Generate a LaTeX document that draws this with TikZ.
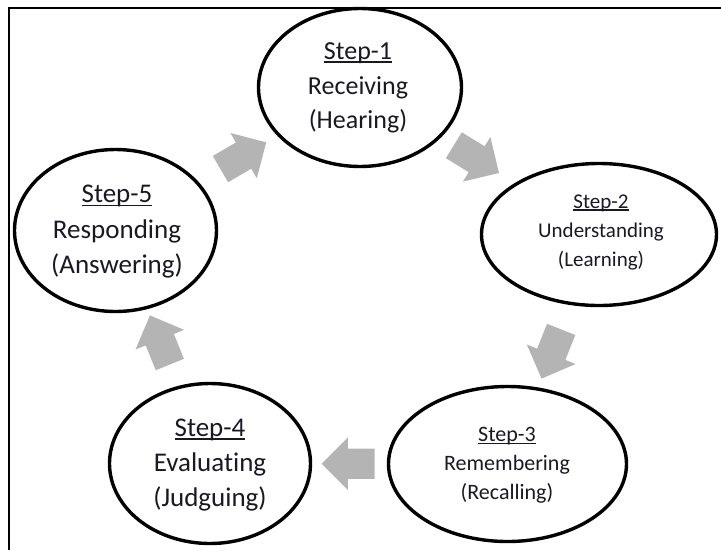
\documentclass[tikz,border=0pt]{standalone}
\usepackage{fontspec}
\setmainfont[Ligatures=NoCommon]{Carlito}
\usetikzlibrary{shapes.geometric,shapes.arrows}
\definecolor{ink}{RGB}{25,25,35}
\definecolor{flow}{RGB}{180,180,180}
% underline that sits just below the baseline and crosses descenders
\newsavebox\ulbox
\newcommand\stepname[1]{\sbox\ulbox{#1}\makebox[0pt][l]{\rule[-0.12em]{\wd\ulbox}{0.06em}}\usebox\ulbox}
\begin{document}
\begin{tikzpicture}[x=1pt,y=-1pt,
  stage/.style={ellipse, draw=black, line width=3.4pt, inner sep=0pt},
  stagetext/.style={align=center, text=ink, inner sep=0pt},
  flowarrow/.style={single arrow, fill=flow, draw=none, minimum height=53pt,
    minimum width=52pt, single arrow head extend=11pt, single arrow head indent=0pt,
    inner xsep=0pt, inner ysep=15pt, sloped, allow upside down},
]
\useasboundingbox (0,0) rectangle (721,550);
% page frame (top and left rules)
\draw[line width=2.6pt] (9,550) -- (9,8) -- (721,8);

% the five stages
\node[stage, minimum width=203pt, minimum height=158pt] (s1) at (360,87.5) {};
\node[stage, minimum width=235pt, minimum height=142pt] (s2) at (599,234.5) {};
\node[stage, minimum width=238pt, minimum height=155pt] (s3) at (507.5,464) {};
\node[stage, minimum width=201pt, minimum height=160pt] (s4) at (210,463.5) {};
\node[stage, minimum width=202pt, minimum height=162pt] (s5) at (115.5,230.5) {};

% stage labels
\node[stagetext, font=\fontsize{26}{34.5}\selectfont] (t1) at (358,88)
  {\stepname{Step-1}\\Receiving\\(Hearing)};
\node[stagetext, font=\fontsize{21}{29}\selectfont] (t2) at (601,232)
  {\stepname{Step-2}\\Understanding\\(Learning)};
\node[stagetext, font=\fontsize{22}{29}\selectfont] (t3) at (507,465)
  {\stepname{Step-3}\\Remembering\\(Recalling)};
\node[stagetext, font=\fontsize{27}{35}\selectfont] (t4) at (210,465)
  {\stepname{Step-4}\\Evaluating\\(Judguing)};
\node[stagetext, font=\fontsize{27}{35.5}\selectfont] (t5) at (117,232)
  {\stepname{Step-5}\\Responding\\(Answering)};

% block arrows between consecutive stages
\path (s1.center) -- node[flowarrow, pos=0.46] (a12) {} (s2.center);
\path (s2.center) -- node[flowarrow, pos=0.49] (a23) {} (s3.center);
\path (s3.center) -- node[flowarrow, pos=0.51] (a34) {} (s4.center);
\path (s4.center) -- node[flowarrow, pos=0.5] (a45) {} (s5.center);
\path (s5.center) -- node[flowarrow, pos=0.496] (a51) {} (s1.center);
\end{tikzpicture}
\end{document}
